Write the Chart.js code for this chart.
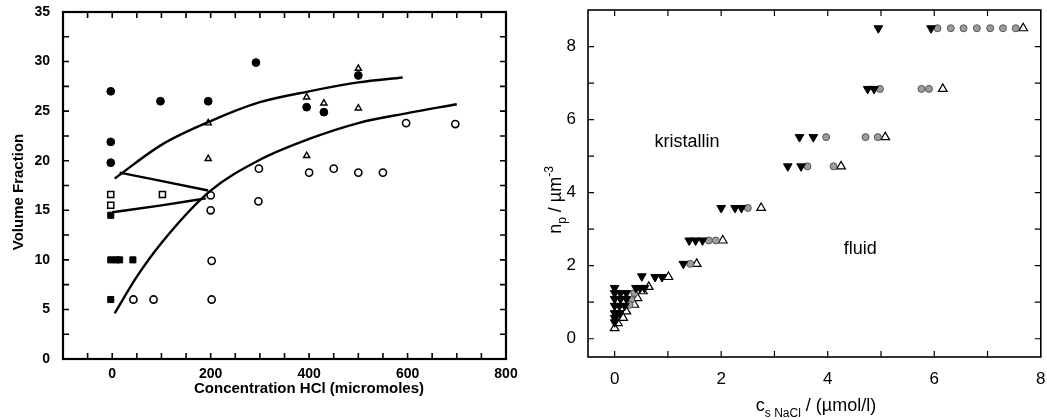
<!DOCTYPE html>
<html><head><meta charset="utf-8">
<script src="https://cdn.jsdelivr.net/npm/chart.js@4/dist/chart.umd.min.js"></script>
<style>
html,body{margin:0;padding:0;background:#fff;width:1047px;height:420px;overflow:hidden;}
#w1{position:absolute;left:0;top:0;width:530px;height:420px;}
#w2{position:absolute;left:530px;top:0;width:517px;height:420px;}
</style></head><body>
<div id="w1"><canvas id="c1" width="530" height="420"></canvas></div>
<div id="w2"><canvas id="c2" width="517" height="420"></canvas></div>
<script>
// ---------- Left panel data (Volume Fraction vs Concentration HCl) ----------
const leftXTicks = [0, 200, 400, 600, 800];
const leftYTicks = [0, 5, 10, 15, 20, 25, 30, 35];

const filledCircleX = [-3, -3, -3, 98, 195, 292, 395, 430, 500];
const filledCircleY = [27, 21.9, 19.8, 26, 26, 29.9, 25.4, 24.9, 28.6];

const openTriangleX = [195, 195, 395, 395, 430, 500, 500];
const openTriangleY = [23.8, 20.2, 26.4, 20.5, 25.8, 25.3, 29.3];

const openCircleX = [43, 84, 202, 202, 200, 200, 297, 298, 400, 450, 500, 550, 597, 697];
const openCircleY = [6, 6, 6, 9.9, 15, 16.5, 15.9, 19.2, 18.8, 19.2, 18.8, 18.8, 23.8, 23.7];

const openSquareX = [-3, -3, 102];
const openSquareY = [16.6, 15.5, 16.6];

const filledSquareX = [-3, -3, 8, 15, 42, -3];
const filledSquareY = [14.5, 10, 10, 10, 10, 6];

const upperCurveX = [5, 100, 200, 300, 400, 500, 590];
const upperCurveY = [18.2, 21.6, 24.0, 25.9, 27.0, 27.9, 28.4];

const lowerCurveX = [5, 50, 100, 198, 300, 400, 500, 600, 700];
const lowerCurveY = [4.6, 8.3, 11.7, 16.9, 20.1, 22.2, 23.8, 24.8, 25.7];

const topSegmentX = [15, 195];
const topSegmentY = [18.8, 17.0];

const bottomSegmentX = [0, 100, 190];
const bottomSegmentY = [14.8, 15.5, 16.2];

// ---------- Right panel data (n_p vs c_s NaCl) ----------
const rightXTicks = [0, 2, 4, 6, 8];
const rightYTicks = [0, 2, 4, 6, 8];

const crystalX = [4.95, 5.94, 4.75, 4.87, 3.47, 3.73, 3.25, 3.50, 2.00, 2.26, 2.38, 1.40, 1.52, 1.65, 1.29,
  0.51, 0.76, 0.89, 0.0, 0.40, 0.48, 0.56, 0.0, 0.11, 0.22, 0.0, 0.11, 0.22, 0.0, 0.09, 0.19, 0.0, 0.09, 0.0, 0.0];
const crystalY = [8.5, 8.5, 6.84, 6.84, 5.52, 5.52, 4.72, 4.72, 3.58, 3.58, 3.58, 2.69, 2.69, 2.69, 2.05,
  1.71, 1.69, 1.69, 1.39, 1.39, 1.39, 1.39, 1.25, 1.25, 1.25, 1.09, 1.09, 1.09, 0.9, 0.9, 0.9, 0.7, 0.7, 0.57, 0.45];

const mixedX = [6.06, 6.31, 6.55, 6.80, 7.05, 7.29, 7.53, 4.98, 5.76, 5.90, 3.97, 4.71, 4.94, 3.62, 4.11,
  2.50, 1.77, 1.90, 1.42, 0.37, 0.31, 0.28];
const mixedY = [8.5, 8.5, 8.5, 8.5, 8.5, 8.5, 8.5, 6.84, 6.84, 6.84, 5.52, 5.52, 5.52, 4.72, 4.72,
  3.58, 2.69, 2.69, 2.05, 1.25, 1.07, 0.93];

const fluidX = [7.67, 6.16, 5.08, 4.25, 2.75, 2.03, 1.54, 1.01, 0.64, 0.53, 0.43, 0.37, 0.22, 0.16, 0.06, 0.0];
const fluidY = [8.5, 6.84, 5.52, 4.72, 3.58, 2.69, 2.05, 1.69, 1.42, 1.30, 1.11, 0.93, 0.75, 0.57, 0.43, 0.29];

// ---------- helpers ----------
const pts = (xs, ys) => xs.map((x, i) => ({x: x, y: ys[i]}));
const FONT = "'Liberation Sans', Arial, Helvetica, sans-serif";
const range = (a, b, s) => { const r = []; for (let v = a; v <= b + 1e-9; v += s) r.push(+v.toFixed(4)); return r; };

const frameTicks = {
  id: 'frameTicks',
  afterDatasetsDraw(chart, args, o) {
    const {ctx, chartArea: a} = chart;
    const x = chart.scales.x, y = chart.scales.y;
    ctx.save();
    ctx.strokeStyle = '#000';
    ctx.lineWidth = o.tickWidth;
    ctx.beginPath();
    o.xMarks.forEach(v => {
      const p = x.getPixelForValue(v);
      ctx.moveTo(p, a.bottom); ctx.lineTo(p, a.bottom - o.len);
      ctx.moveTo(p, a.top); ctx.lineTo(p, a.top + o.len);
    });
    o.yMarks.forEach(v => {
      const p = y.getPixelForValue(v);
      ctx.moveTo(a.left, p); ctx.lineTo(a.left + o.len, p);
      ctx.moveTo(a.right, p); ctx.lineTo(a.right - o.len, p);
    });
    ctx.stroke();
    ctx.lineWidth = o.frameWidth;
    ctx.strokeRect(a.left, a.top, a.right - a.left, a.bottom - a.top);
    ctx.restore();
  }
};

const richText = {
  id: 'richText',
  afterDraw(chart, args, o) {
    const ctx = chart.ctx;
    (o.items || []).forEach(it => {
      let px = it.x, py = it.y;
      if (it.dataX !== undefined) { px = chart.scales.x.getPixelForValue(it.dataX); py = chart.scales.y.getPixelForValue(it.dataY); }
      ctx.save();
      ctx.translate(px, py);
      if (it.rotate) ctx.rotate(it.rotate);
      ctx.fillStyle = '#000';
      ctx.textBaseline = 'alphabetic';
      ctx.textAlign = 'left';
      let w = 0;
      it.parts.forEach(p => { ctx.font = p.font; w += ctx.measureText(p.t).width + (p.gap || 0); });
      let cx = -w / 2;
      it.parts.forEach(p => {
        ctx.font = p.font;
        cx += (p.gap || 0);
        ctx.fillText(p.t, cx, it.base + (p.dy || 0));
        cx += ctx.measureText(p.t).width;
      });
      ctx.restore();
    });
  }
};

const scatterDs = (xs, ys, style) => Object.assign({
  data: pts(xs, ys), showLine: false, pointHoverRadius: 0
}, style);
const lineDs = (xs, ys) => ({
  data: pts(xs, ys), showLine: true, pointRadius: 0, borderColor: '#000', borderWidth: 2.4,
  cubicInterpolationMode: 'monotone', fill: false
});

// ---------- Left chart ----------
const boldTick = {family: FONT, size: 14, weight: 'bold'};
new Chart(document.getElementById('c1'), {
  type: 'scatter',
  data: {datasets: [
    lineDs(upperCurveX, upperCurveY),
    lineDs(lowerCurveX, lowerCurveY),
    lineDs(topSegmentX, topSegmentY),
    lineDs(bottomSegmentX, bottomSegmentY),
    scatterDs(filledCircleX, filledCircleY, {pointStyle: 'circle', pointRadius: 3.9, backgroundColor: '#000', borderColor: '#000', borderWidth: 1}),
    scatterDs(openCircleX, openCircleY, {pointStyle: 'circle', pointRadius: 3.6, backgroundColor: '#fff', borderColor: '#000', borderWidth: 1.6}),
    scatterDs(openTriangleX, openTriangleY, {pointStyle: 'triangle', pointRadius: 3.6, backgroundColor: '#fff', borderColor: '#000', borderWidth: 1.4}),
    scatterDs(openSquareX, openSquareY, {pointStyle: 'rect', pointRadius: 4.3, backgroundColor: '#fff', borderColor: '#000', borderWidth: 1.5}),
    scatterDs(filledSquareX, filledSquareY, {pointStyle: 'rect', pointRadius: 4.3, backgroundColor: '#000', borderColor: '#000', borderWidth: 1})
  ]},
  options: {
    responsive: false, animation: false, events: [],
    layout: {padding: {top: 12, right: 24, left: 0, bottom: 0}},
    plugins: {
      legend: {display: false}, tooltip: {enabled: false},
      frameTicks: {xMarks: range(-50, 750, 50), yMarks: range(2.5, 32.5, 2.5), len: 6, tickWidth: 1.6, frameWidth: 2.2},
      richText: {items: [
        {x: 18, y: 192, rotate: -Math.PI / 2, base: 5, parts: [{t: 'Volume Fraction', font: 'bold 15px ' + FONT}]},
        {x: 309, y: 388, base: 5, parts: [{t: 'Concentration HCl (micromoles)', font: 'bold 15px ' + FONT}]}
      ]}
    },
    scales: {
      x: {
        type: 'linear', min: -100, max: 800,
        afterBuildTicks: s => { s.ticks = leftXTicks.map(v => ({value: v})); },
        afterFit: s => { s.height = 61; s.paddingLeft = 0; s.paddingRight = 0; },
        grid: {display: false, drawTicks: false}, border: {display: false},
        ticks: {font: boldTick, color: '#000', padding: 7, maxRotation: 0, autoSkip: false}
      },
      y: {
        type: 'linear', min: 0, max: 35,
        afterBuildTicks: s => { s.ticks = leftYTicks.map(v => ({value: v})); },
        afterFit: s => { s.width = 63; s.paddingTop = 0; s.paddingBottom = 0; },
        grid: {display: false, drawTicks: false}, border: {display: false},
        ticks: {font: boldTick, color: '#000', padding: 13, autoSkip: false}
      }
    }
  },
  plugins: [frameTicks, richText]
});

// ---------- Right chart ----------
const regTick = {family: FONT, size: 17};
new Chart(document.getElementById('c2'), {
  type: 'scatter',
  data: {datasets: [
    scatterDs(crystalX, crystalY, {pointStyle: 'triangle', rotation: 180, pointRadius: 5, backgroundColor: '#000', borderColor: '#000', borderWidth: 1}),
    scatterDs(mixedX, mixedY, {pointStyle: 'circle', pointRadius: 3.5, backgroundColor: '#9c9c9c', borderColor: '#555', borderWidth: 1}),
    scatterDs(fluidX, fluidY, {pointStyle: 'triangle', pointRadius: 5, backgroundColor: '#fff', borderColor: '#000', borderWidth: 1.2})
  ]},
  options: {
    responsive: false, animation: false, events: [],
    layout: {padding: {top: 10, right: 3, left: 0, bottom: 0}},
    plugins: {
      legend: {display: false}, tooltip: {enabled: false},
      frameTicks: {xMarks: range(0, 7, 1), yMarks: range(0, 8, 1), len: 6, tickWidth: 1.2, frameWidth: 1.6},
      richText: {items: [
        {x: 25, y: 200, rotate: -Math.PI / 2, base: 6, parts: [
          {t: 'n', font: '18px ' + FONT},
          {t: 'p', font: '12px ' + FONT, dy: 5},
          {t: ' / \u00b5m', font: '18px ' + FONT},
          {t: '-3', font: '12px ' + FONT, dy: -8}
        ]},
        {x: 286, y: 407, base: 4, parts: [
          {t: 'c', font: '18px ' + FONT},
          {t: 's NaCl', font: '12px ' + FONT, dy: 6},
          {t: ' / (\u00b5mol/l)', font: '18px ' + FONT}
        ]},
        {dataX: 1.36, dataY: 5.4, base: 6, parts: [{t: 'kristallin', font: '18px ' + FONT}]},
        {dataX: 4.61, dataY: 2.49, base: 6, parts: [{t: 'fluid', font: '18px ' + FONT}]}
      ]}
    },
    scales: {
      x: {
        type: 'linear', min: -0.5, max: 8,
        afterBuildTicks: s => { s.ticks = rightXTicks.map(v => ({value: v})); },
        afterFit: s => { s.height = 63; s.paddingLeft = 0; s.paddingRight = 0; },
        grid: {display: false, drawTicks: false}, border: {display: false},
        ticks: {font: regTick, color: '#000', padding: 12, maxRotation: 0, autoSkip: false}
      },
      y: {
        type: 'linear', min: -0.5, max: 9,
        afterBuildTicks: s => { s.ticks = rightYTicks.map(v => ({value: v})); },
        afterFit: s => { s.width = 58; s.paddingTop = 0; s.paddingBottom = 0; },
        grid: {display: false, drawTicks: false}, border: {display: false},
        ticks: {font: regTick, color: '#000', padding: 12, autoSkip: false}
      }
    }
  },
  plugins: [frameTicks, richText]
});
</script>
</body></html>
